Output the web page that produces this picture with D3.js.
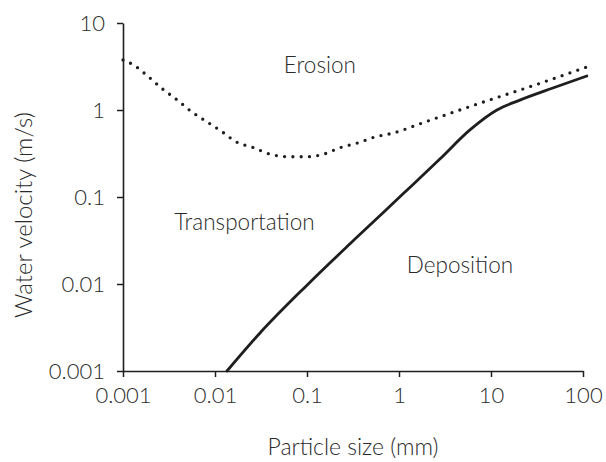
<!DOCTYPE html>
<html><head><meta charset="utf-8">
<script src="https://cdn.jsdelivr.net/npm/d3@7"></script>
<style>
body{margin:0;background:#fff}
svg{display:block}
text{font-family:Lato,"Open Sans",sans-serif;fill:#2a2a2a;font-weight:300}
</style>
</head><body>
<svg id="chart" width="606" height="462"></svg>
<script>
// ---- data ----
const xTicks = [0.001, 0.01, 0.1, 1, 10, 100];
const xTickLabels = ["0.001", "0.01", "0.1", "1", "10", "100"];
const yTicks = [0.001, 0.01, 0.1, 1, 10];
const yTickLabels = ["0.001", "0.01", "0.1", "1", "10"];

// erosion (critical velocity) curve – dotted
const erosionSize =     [0.001, 0.0013, 0.0019, 0.0027, 0.0039, 0.0056, 0.0082, 0.012, 0.017, 0.026, 0.04, 0.065, 0.1, 0.15, 0.23, 0.36, 0.55, 0.84, 2, 7.6, 26, 118];
const erosionVelocity = [3.76, 3.3, 2.4, 1.74, 1.3, 0.95, 0.73, 0.56, 0.43, 0.37, 0.31, 0.29, 0.29, 0.31, 0.37, 0.42, 0.49, 0.54, 0.74, 1.2, 1.84, 3.2];

// deposition (settling velocity) curve – solid
const depositionSize =     [0.0135, 0.031, 0.1, 0.33, 1.1, 2.8, 5.9, 11.6, 20.6, 47, 110];
const depositionVelocity = [0.001, 0.00275, 0.0097, 0.0326, 0.108, 0.275, 0.59, 1.0, 1.3, 1.79, 2.46];

// region labels (placed in data units)
const regionNames = ["Erosion", "Transportation", "Deposition"];
const regionSize = [0.138, 0.0209, 4.6];
const regionVelocity = [2.66, 0.0418, 0.0134];

const xTitle = "Particle size (mm)";
const yTitle = "Water velocity (m/s)";

// ---- drawing ----
const svg = d3.select("#chart");
const x = d3.scaleLog().domain([0.001, 100]).range([123, 583]);
const y = d3.scaleLog().domain([0.001, 10]).range([371, 23]);
const ink = "#1e1e1e";

const xAxis = svg.append("g").attr("transform", `translate(0,${y(0.001)})`)
  .call(d3.axisBottom(x).tickValues(xTicks).tickFormat((d, i) => xTickLabels[i])
    .tickSize(6).tickSizeOuter(0).tickPadding(10));
const yAxis = svg.append("g").attr("transform", `translate(${x(0.001)},0)`)
  .call(d3.axisLeft(y).tickValues(yTicks).tickFormat((d, i) => yTickLabels[i])
    .tickSize(6).tickSizeOuter(0).tickPadding(12));

[xAxis, yAxis].forEach(g => {
  g.select(".domain").attr("stroke", ink).attr("stroke-width", 1.6);
  g.selectAll(".tick line").attr("stroke", ink).attr("stroke-width", 1.5);
  g.selectAll(".tick text").attr("font-size", 22).attr("font-family", null).attr("fill", null);
});

const line = d3.line().x(d => x(d[0])).y(d => y(d[1])).curve(d3.curveMonotoneX);

svg.append("path")
  .datum(erosionSize.map((d, i) => [d, erosionVelocity[i]]))
  .attr("d", line).attr("fill", "none").attr("stroke", ink)
  .attr("stroke-width", 3.3).attr("stroke-linecap", "round")
  .attr("stroke-dasharray", "0,8.3");

svg.append("path")
  .datum(depositionSize.map((d, i) => [d, depositionVelocity[i]]))
  .attr("d", line).attr("fill", "none").attr("stroke", ink)
  .attr("stroke-width", 2.8).attr("stroke-linecap", "round");

svg.selectAll(".region").data(regionNames).enter().append("text")
  .attr("class", "region")
  .attr("x", (d, i) => x(regionSize[i]))
  .attr("y", (d, i) => y(regionVelocity[i]))
  .attr("text-anchor", "middle").attr("font-size", 22.5)
  .text(d => d);

svg.append("text").attr("x", (x.range()[0] + x.range()[1]) / 2).attr("y", 455)
  .attr("text-anchor", "middle").attr("font-size", 23).text(xTitle);

svg.append("text").attr("transform", `translate(32,215) rotate(-90)`)
  .attr("text-anchor", "middle").attr("font-size", 24).text(yTitle);
</script>
</body></html>
